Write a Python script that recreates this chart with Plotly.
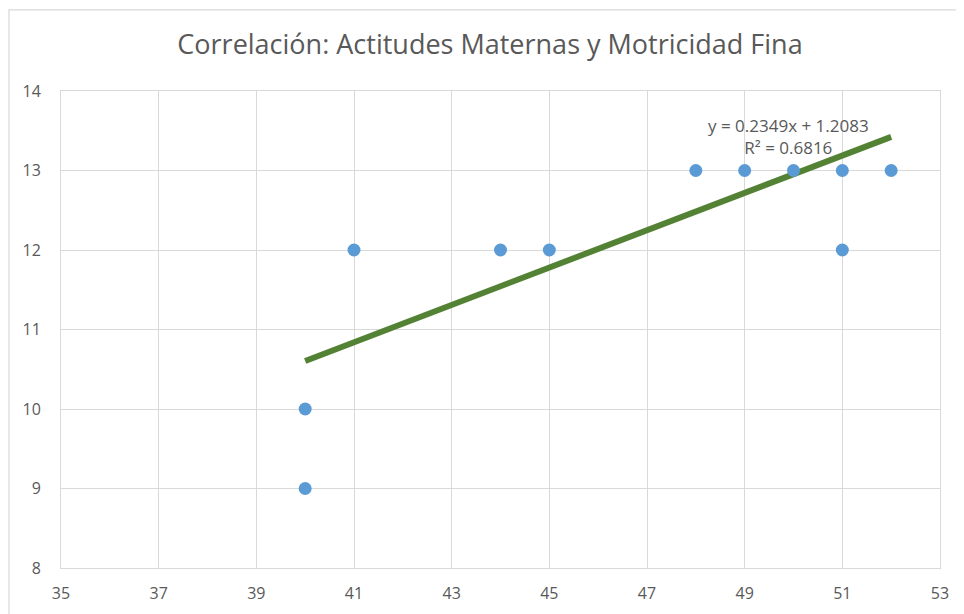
import plotly.graph_objects as go

title = "Correlación: Actitudes Maternas y Motricidad Fina"
x_vals = [40, 40, 41, 44, 45, 48, 49, 50, 51, 51, 52]
y_vals = [10, 9, 12, 12, 12, 13, 13, 13, 13, 12, 13]
slope = 0.2349
intercept = 1.2083
r2 = 0.6816
x_ticks = [35, 37, 39, 41, 43, 45, 47, 49, 51, 53]
y_ticks = [8, 9, 10, 11, 12, 13, 14]

font_family = "Open Sans, Liberation Sans, sans-serif"
grey = "#595959"
grid = "#D9D9D9"

tx = [min(x_vals), max(x_vals)]
ty = [slope * v + intercept for v in tx]

fig = go.Figure()
fig.add_trace(go.Scatter(x=tx, y=ty, mode="lines",
                         line=dict(color="#548235", width=6),
                         hoverinfo="skip", showlegend=False))
fig.add_trace(go.Scatter(x=x_vals, y=y_vals, mode="markers",
                         marker=dict(color="#5B9BD5", size=13),
                         showlegend=False))

fig.add_annotation(x=49.9, y=13.43, xref="x", yref="y",
                   text=f"y = {slope}x + {intercept}<br>R² = {r2}",
                   showarrow=False, align="center",
                   font=dict(family=font_family, size=17, color=grey))

fig.add_shape(type="rect", xref="paper", yref="paper",
              x0=-0.0592, x1=1.2, y0=-0.3, y1=1.17,
              line=dict(color=grid, width=1.2), layer="below")

fig.update_layout(
    width=964, height=614,
    margin=dict(l=53, r=32, t=83, b=54),
    paper_bgcolor="white", plot_bgcolor="white",
    title=dict(text=title, x=0.5, xanchor="center", y=0.94, yanchor="middle",
               font=dict(family=font_family, size=27, color=grey)),
    font=dict(family=font_family, size=15, color=grey),
    xaxis=dict(range=[35, 53], tickvals=x_ticks, showgrid=True, gridcolor=grid,
               zeroline=False, showline=True, linecolor=grid, mirror=True,
               ticks="", ticklabelstandoff=11,
               tickfont=dict(family=font_family, size=16, color=grey)),
    yaxis=dict(range=[8, 14], tickvals=y_ticks, showgrid=True, gridcolor=grid,
               zeroline=False, showline=True, linecolor=grid, mirror=True,
               ticks="", ticklabelstandoff=16,
               tickfont=dict(family=font_family, size=16, color=grey)),
)

fig.write_html("out.html")
